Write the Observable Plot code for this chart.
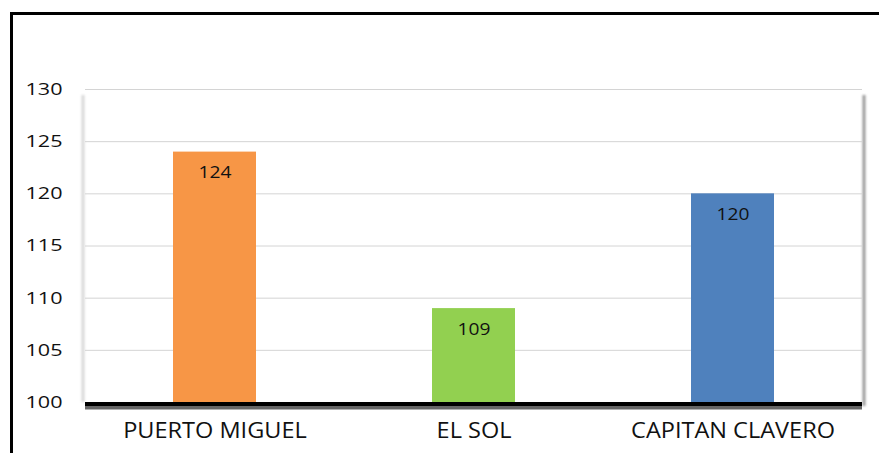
<!DOCTYPE html>
<html>
<head>
<meta charset="utf-8">
<script src="https://cdn.jsdelivr.net/npm/d3@7"></script>
<script src="https://cdn.jsdelivr.net/npm/@observablehq/plot@0.6"></script>
<style>
  html, body { margin: 0; padding: 0; background: #fff; }
  #wrap { position: relative; width: 879px; height: 453px; overflow: hidden; }
  #frame { position: absolute; left: 10px; top: 12px; width: 900px; height: 500px;
           border-top: 3px solid #000; border-left: 3px solid #000; box-sizing: border-box; pointer-events: none; }
  #chart { position: absolute; left: 0; top: 0; }
</style>
</head>
<body>
<div id="wrap"><div id="chart"></div><div id="frame"></div></div>
<script>
const categories = ["PUERTO MIGUEL", "EL SOL", "CAPITAN CLAVERO"];
const values = [124, 109, 120];
const colors = ["#F79646", "#92D050", "#4F81BD"];
const yTicks = [100, 105, 110, 115, 120, 125, 130];

const data = categories.map((c, i) => ({cat: c, value: values[i], color: colors[i]}));

const font = "'Open Sans', 'DejaVu Sans', sans-serif";

// decorative edge shadows of the plot area, placed from the plot dimensions
function edgeShadows(index, scales, values, dims) {
  const g = d3.create("svg:g");
  const x0 = dims.marginLeft, x1 = dims.width - dims.marginRight;
  const y0 = dims.marginTop, y1 = dims.height - dims.marginBottom;
  g.append("line").attr("x1", x1 + 2).attr("x2", x1 + 2).attr("y1", y0 + 6).attr("y2", y1 + 4)
    .attr("stroke", "#9a9a9a").attr("stroke-width", 3).style("filter", "blur(1.2px)");
  g.append("line").attr("x1", x0 - 2).attr("x2", x0 - 2).attr("y1", y0 + 6).attr("y2", y1)
    .attr("stroke", "#d8d8d8").attr("stroke-width", 3).style("filter", "blur(1px)");
  return g.node();
}

const chart = Plot.plot({
  width: 879,
  height: 453,
  marginLeft: 85,
  marginRight: 17,
  marginTop: 89,
  marginBottom: 51,
  style: {fontFamily: font, background: "transparent"},
  x: {domain: categories, paddingInner: 0.68, paddingOuter: 0.34, label: null},
  y: {domain: [100, 130], ticks: yTicks, label: null},
  marks: [
    edgeShadows,
    Plot.ruleY(yTicks.filter(d => d > 100), {stroke: "#d4d4d4", strokeWidth: 1}),
    Plot.barY(data, {x: "cat", y1: 100, y2: "value", fill: "color"}),
    Plot.ruleY([100], {stroke: "#000", strokeWidth: 6, dy: 4, strokeOpacity: 0.6, style: "filter: blur(2px)"}),
    Plot.ruleY([100], {stroke: "#000", strokeWidth: 4, dy: 1.5}),
    Plot.text(data, {x: "cat", y: "value", text: d => String(d.value), dy: 21, fill: "#111", fontSize: 16, fontFamily: font}),
    Plot.axisY({ticks: yTicks, tickSize: 0, tickPadding: 23, fontSize: 17, fill: "#111", label: null}),
    Plot.axisX({tickSize: 0, tickPadding: 21, fontSize: 21, fill: "#111", label: null})
  ]
});
document.getElementById("chart").appendChild(chart);

// the reference uses a horizontally stretched face: widen glyphs a little
d3.select(chart).selectAll("text").each(function() {
  const g = this.closest("g[aria-label]");
  const lab = g ? g.getAttribute("aria-label") : "";
  const k = lab.startsWith("y-axis") ? 1.27 : lab.startsWith("x-axis") ? 1.12 : 1.2;
  const len = this.getComputedTextLength();
  if (len > 0) {
    this.setAttribute("textLength", (len * k).toFixed(1));
    this.setAttribute("lengthAdjust", "spacingAndGlyphs");
  }
});
</script>
</body>
</html>
